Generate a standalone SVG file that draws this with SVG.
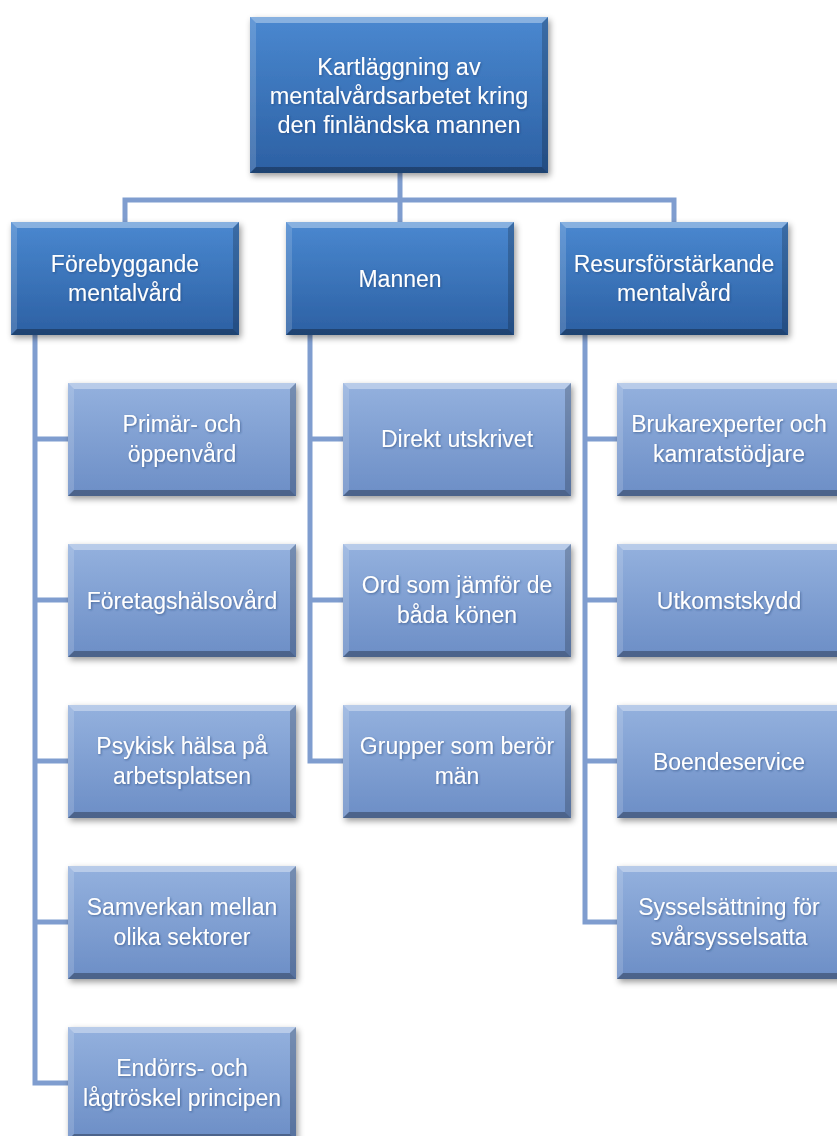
<svg xmlns="http://www.w3.org/2000/svg" xmlns:xlink="http://www.w3.org/1999/xlink" width="837" height="1136" viewBox="0 0 837 1136">
<style>
.t{font-family:"Liberation Sans","DejaVu Sans",sans-serif;fill:#ffffff;text-anchor:middle;dominant-baseline:central;filter:url(#tsh)}
.big{font-size:23.5px}
.mid{font-size:23px}
.conn{fill:none;stroke:#7f9dcf;stroke-width:5}
.hl{fill:#ffffff}
.dk{fill:#000000}
</style>
<defs>
<linearGradient id="gDark" x1="0" y1="0" x2="0" y2="1">
<stop offset="0" stop-color="#4a88d0"/>
<stop offset="1" stop-color="#2c60a3"/>
</linearGradient>
<linearGradient id="gLight" x1="0" y1="0" x2="0" y2="1">
<stop offset="0" stop-color="#94b1de"/>
<stop offset="1" stop-color="#6c8ec6"/>
</linearGradient>
<filter id="sh" x="-10%" y="-10%" width="130%" height="130%">
<feDropShadow dx="2" dy="3" stdDeviation="3" flood-color="#000" flood-opacity="0.4"/>
</filter>
<filter id="tsh" x="-10%" y="-20%" width="120%" height="150%">
<feDropShadow dx="1" dy="1" stdDeviation="1" flood-color="#1f3f70" flood-opacity="0.55"/>
</filter>
<g id="boxTop">
<rect x="0" y="0" width="298" height="156" fill="url(#gDark)" filter="url(#sh)"/>
<polygon class="hl" opacity="0.35" points="0,0 298,0 292,6 6,6"/>
<polygon class="hl" opacity="0.15" points="0,0 6,6 6,150 0,156"/>
<polygon class="dk" opacity="0.2" points="298,0 298,156 292,150 292,6"/>
<polygon class="dk" opacity="0.3" points="0,156 298,156 292,150 6,150"/>
</g>
<g id="boxL2">
<rect x="0" y="0" width="228" height="113" fill="url(#gDark)" filter="url(#sh)"/>
<polygon class="hl" opacity="0.35" points="0,0 228,0 222,6 6,6"/>
<polygon class="hl" opacity="0.15" points="0,0 6,6 6,107 0,113"/>
<polygon class="dk" opacity="0.2" points="228,0 228,113 222,107 222,6"/>
<polygon class="dk" opacity="0.3" points="0,113 228,113 222,107 6,107"/>
</g>
<g id="boxC">
<rect x="0" y="0" width="228" height="113" fill="url(#gLight)" filter="url(#sh)"/>
<polygon class="hl" opacity="0.35" points="0,0 228,0 222,6 6,6"/>
<polygon class="hl" opacity="0.15" points="0,0 6,6 6,107 0,113"/>
<polygon class="dk" opacity="0.2" points="228,0 228,113 222,107 222,6"/>
<polygon class="dk" opacity="0.3" points="0,113 228,113 222,107 6,107"/>
</g>
</defs>
<rect width="837" height="1136" fill="#ffffff"/>

<g id="connectors">
<path class="conn" d="M400,173 V200 M125,222 V200 H674 V222 M400,200 V222"/>
<path class="conn" d="M35,335 V1083 H68 M35,439 H68 M35,600 H68 M35,761 H68 M35,922 H68"/>
<path class="conn" d="M310,335 V761 H343 M310,439 H343 M310,600 H343"/>
<path class="conn" d="M585,335 V922 H617 M585,439 H617 M585,600 H617 M585,761 H617"/>
</g>

<g id="n-root">
<use xlink:href="#boxTop" x="250" y="17"/>
<text class="t big" x="399" y="67">Kartläggning av</text>
<text class="t big" x="399" y="96">mentalvårdsarbetet kring</text>
<text class="t big" x="399" y="125">den finländska mannen</text>
</g>

<g id="n-forebyggande">
<use xlink:href="#boxL2" x="11" y="222"/>
<text class="t mid" x="125" y="264">Förebyggande</text>
<text class="t mid" x="125" y="293">mentalvård</text>
</g>
<g id="n-mannen">
<use xlink:href="#boxL2" x="286" y="222"/>
<text class="t mid" x="400" y="279">Mannen</text>
</g>
<g id="n-resurs">
<use xlink:href="#boxL2" x="560" y="222"/>
<text class="t mid" x="674" y="264">Resursförstärkande</text>
<text class="t mid" x="674" y="293">mentalvård</text>
</g>

<g id="n-primar">
<use xlink:href="#boxC" x="68" y="383"/>
<text class="t mid" x="182" y="424">Primär- och</text>
<text class="t mid" x="182" y="454">öppenvård</text>
</g>
<g id="n-foretags">
<use xlink:href="#boxC" x="68" y="544"/>
<text class="t mid" x="182" y="601">Företagshälsovård</text>
</g>
<g id="n-psykisk">
<use xlink:href="#boxC" x="68" y="705"/>
<text class="t mid" x="182" y="746">Psykisk hälsa på</text>
<text class="t mid" x="182" y="776">arbetsplatsen</text>
</g>
<g id="n-samverkan">
<use xlink:href="#boxC" x="68" y="866"/>
<text class="t mid" x="182" y="907">Samverkan mellan</text>
<text class="t mid" x="182" y="937">olika sektorer</text>
</g>
<g id="n-endorrs">
<use xlink:href="#boxC" x="68" y="1027"/>
<text class="t mid" x="182" y="1068">Endörrs- och</text>
<text class="t mid" x="182" y="1098">lågtröskel principen</text>
</g>

<g id="n-direkt">
<use xlink:href="#boxC" x="343" y="383"/>
<text class="t mid" x="457" y="439">Direkt utskrivet</text>
</g>
<g id="n-ord">
<use xlink:href="#boxC" x="343" y="544"/>
<text class="t mid" x="457" y="585">Ord som jämför de</text>
<text class="t mid" x="457" y="615">båda könen</text>
</g>
<g id="n-grupper">
<use xlink:href="#boxC" x="343" y="705"/>
<text class="t mid" x="457" y="746">Grupper som berör</text>
<text class="t mid" x="457" y="776">män</text>
</g>

<g id="n-brukar">
<use xlink:href="#boxC" x="617" y="383"/>
<text class="t mid" x="729" y="424">Brukarexperter och</text>
<text class="t mid" x="729" y="454">kamratstödjare</text>
</g>
<g id="n-utkomst">
<use xlink:href="#boxC" x="617" y="544"/>
<text class="t mid" x="729" y="601">Utkomstskydd</text>
</g>
<g id="n-boende">
<use xlink:href="#boxC" x="617" y="705"/>
<text class="t mid" x="729" y="762">Boendeservice</text>
</g>
<g id="n-syssel">
<use xlink:href="#boxC" x="617" y="866"/>
<text class="t mid" x="729" y="907">Sysselsättning för</text>
<text class="t mid" x="729" y="937">svårsysselsatta</text>
</g>
</svg>
